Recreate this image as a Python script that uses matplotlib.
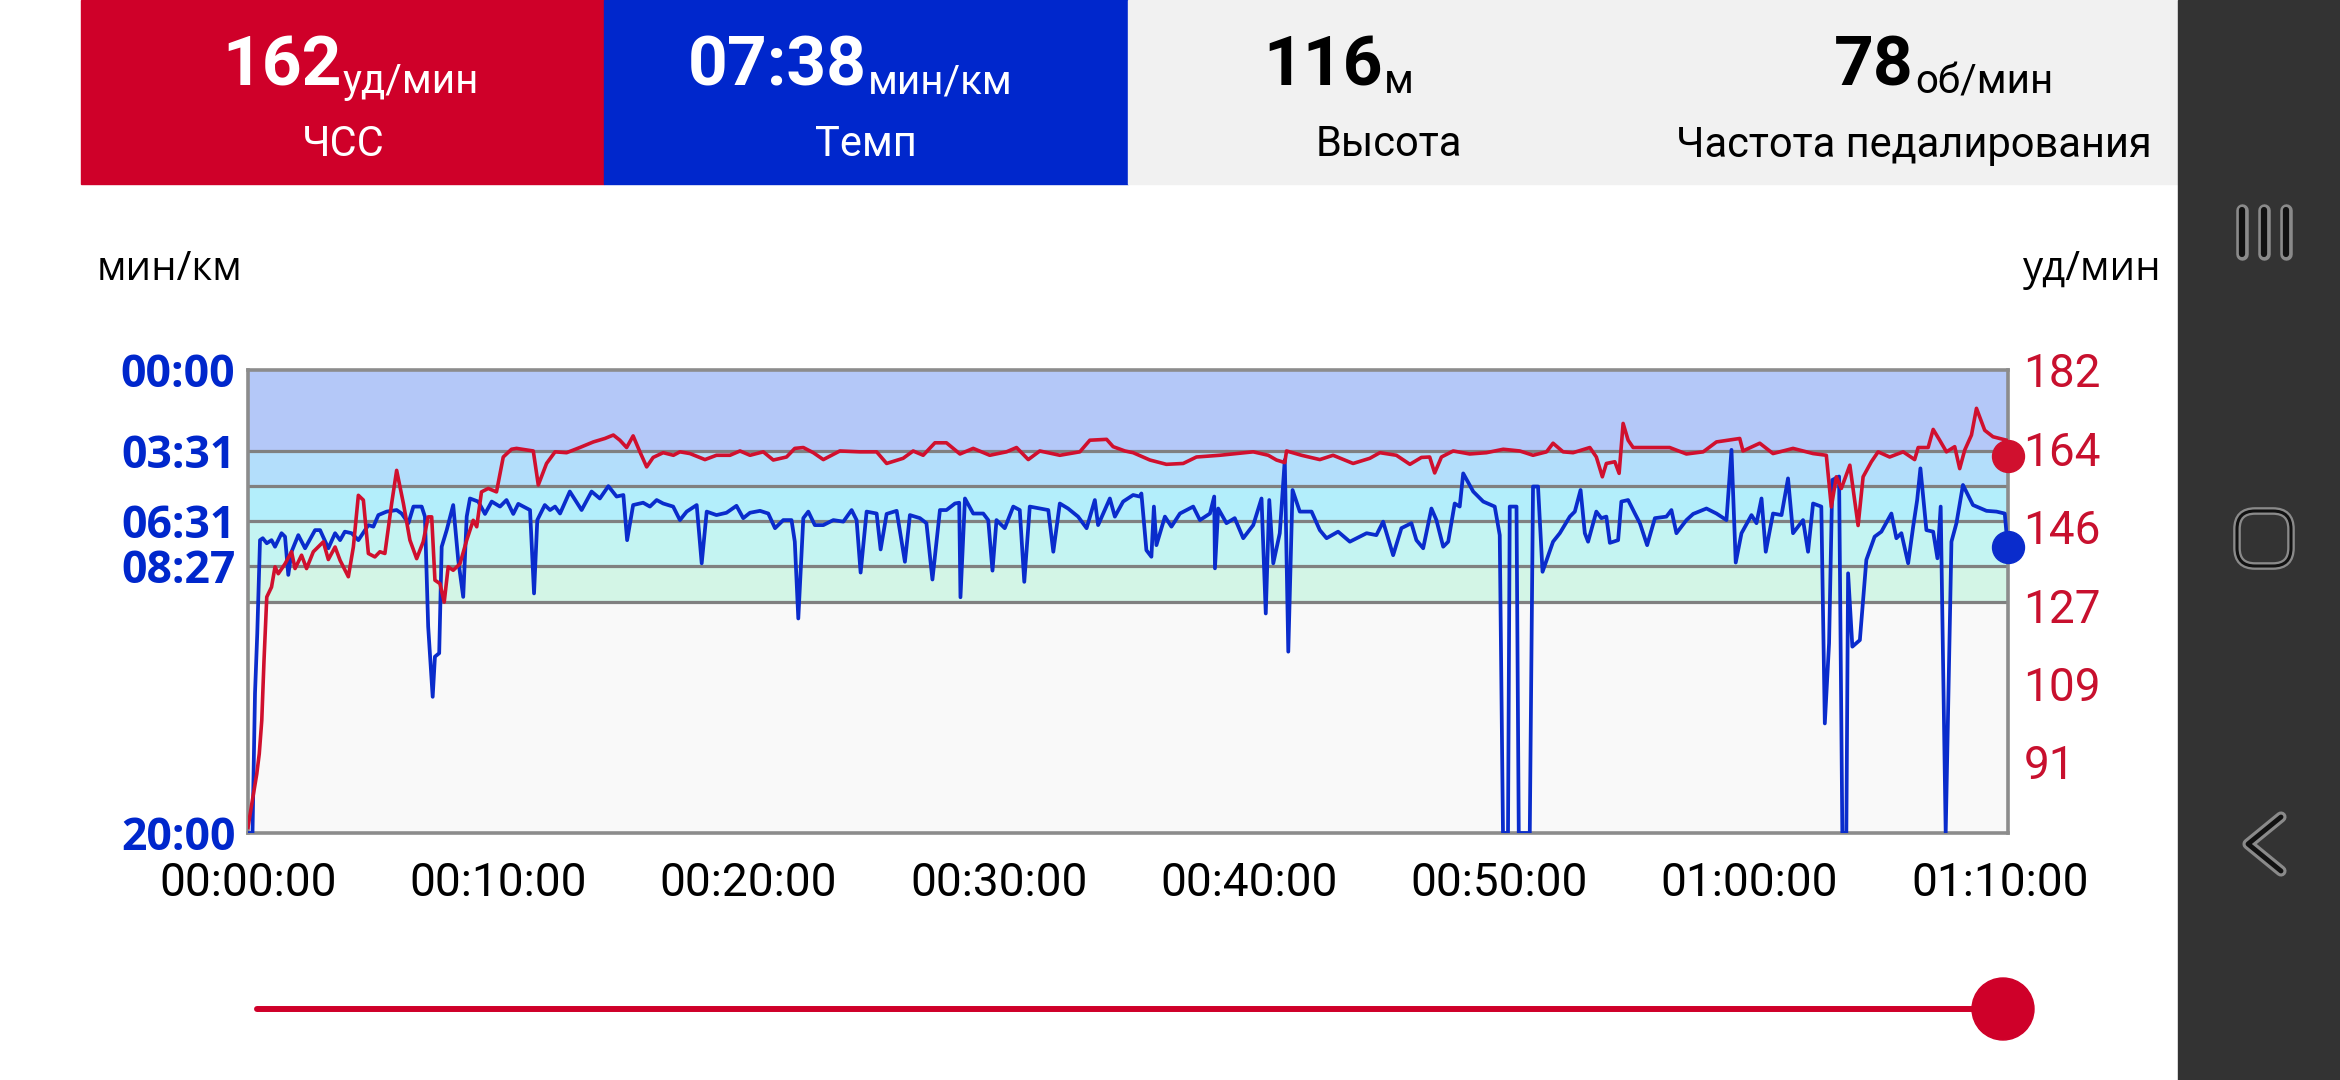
import matplotlib
matplotlib.use("Agg")
import matplotlib.pyplot as plt
from matplotlib.patches import Rectangle, Circle, FancyBboxPatch

# ---------------- данные ----------------
# время, мин
HR_T = [0, 0.15, 0.35, 0.45, 0.55, 0.64, 0.75, 0.94, 1.08, 1.21, 1.48, 1.74, 1.88, 2.14, 2.34,
        2.61, 3.01, 3.21, 3.48, 3.68, 4.01, 4.21, 4.41, 4.61, 4.81, 5.07, 5.27, 5.47, 5.74, 5.94,
        6.21, 6.47, 6.74, 7.00, 7.20, 7.34, 7.47, 7.67, 7.84, 8.00, 8.20, 8.47, 8.74, 9.00, 9.14,
        9.33, 9.60, 9.93, 10.20, 10.53, 10.73, 11.40, 11.60, 11.93, 12.27, 12.73, 13.26, 13.80,
        14.26, 14.60, 14.86, 15.13, 15.39, 15.66, 15.93, 16.19, 16.59, 17.00, 17.26, 17.66, 18.26,
        18.72, 19.26, 19.66, 20.06, 20.59, 20.99, 21.52, 21.85, 22.19, 22.59, 22.99, 23.65, 24.45,
        25.12, 25.52, 26.18, 26.58, 26.98, 27.45, 27.91, 28.45, 28.98, 29.64, 30.31, 30.71, 31.18,
        31.64, 32.44, 33.24, 33.64, 34.31, 34.57, 35.04, 35.37, 36.04, 36.70, 37.37, 37.90, 38.83,
        39.50, 40.17, 40.77, 41.10, 41.43, 41.50, 42.10, 42.83, 43.36, 44.16, 44.83, 45.23, 45.89,
        46.43, 46.89, 47.22, 47.42, 47.69, 48.16, 48.82, 49.49, 50.16, 50.82, 51.35, 51.89, 52.15,
        52.55, 52.95, 53.62, 53.88, 54.12, 54.28, 54.62, 54.79, 54.95, 55.15, 55.35, 56.15, 56.81,
        57.48, 58.15, 58.68, 59.61, 59.74, 60.41, 60.94, 61.74, 62.54, 63.07, 63.27, 63.47, 63.67,
        64.01, 64.34, 64.54, 64.87, 65.14, 65.60, 66.14, 66.60, 66.74, 67.14, 67.34, 67.60, 67.87,
        68.20, 68.40, 68.60, 68.87, 69.07, 69.40, 69.73, 70.27]
# ЧСС, уд/мин
HR_V = [75.8, 81.2, 88.2, 92.9, 100.6, 114.6, 129.3, 131.6, 136.3, 134.7, 137.0, 139.8, 135.9,
        139.0, 135.9, 139.8, 142.1, 138.0, 140.9, 137.8, 134.0, 140.9, 152.9, 151.8, 139.4, 138.6,
        139.8, 139.4, 151.0, 158.7, 151.0, 142.5, 138.2, 142.1, 147.9, 147.9, 133.2, 132.4, 128.1,
        136.3, 135.5, 137.0, 142.5, 147.1, 145.6, 153.7, 154.5, 153.7, 161.8, 163.6, 163.8, 163.2,
        155.3, 160.3, 163.0, 162.8, 164.0, 165.3, 166.1, 166.9, 165.7, 164.0, 166.7, 163.0, 159.5,
        161.7, 162.8, 162.2, 163.0, 162.6, 161.2, 162.2, 162.2, 163.2, 162.2, 163.0, 161.1, 161.8,
        163.8, 164.0, 162.8, 161.2, 163.2, 163.0, 163.0, 160.3, 161.5, 163.2, 162.2, 165.1, 165.1,
        162.5, 163.8, 162.2, 163.0, 164.0, 161.2, 163.2, 162.2, 163.0, 165.7, 165.9, 164.2, 163.2,
        162.8, 161.1, 160.1, 160.3, 161.8, 162.2, 162.6, 163.0, 162.2, 161.1, 160.5, 163.2, 162.2,
        161.2, 162.2, 160.3, 161.5, 162.8, 162.2, 160.1, 161.7, 161.8, 158.1, 161.8, 163.2, 162.5,
        162.8, 163.6, 163.2, 162.2, 163.0, 165.0, 163.0, 162.8, 164.0, 161.8, 157.2, 160.3, 160.7,
        158.0, 169.6, 165.7, 164.0, 164.0, 164.0, 162.5, 163.0, 165.3, 166.1, 163.2, 165.0, 162.6,
        163.8, 162.6, 162.2, 150.2, 157.2, 154.5, 159.9, 145.9, 157.2, 160.7, 163.0, 161.8, 163.0,
        161.2, 164.0, 164.0, 168.2, 165.7, 163.0, 164.2, 159.1, 163.4, 166.9, 173.1, 168.0, 166.5,
        165.7]

# время, мин
PACE_T = [0, 0.18, 0.28, 0.37, 0.48, 0.59, 0.75, 0.94, 1.08, 1.34, 1.48, 1.61, 1.74, 2.01, 2.28,
          2.68, 2.88, 3.21, 3.48, 3.68, 3.87, 4.14, 4.41, 4.81, 5.01, 5.21, 5.54, 5.94, 6.14, 6.41,
          6.61, 6.94, 7.07, 7.20, 7.38, 7.47, 7.64, 7.74, 7.94, 8.20, 8.40, 8.60, 8.74, 8.87, 9.20,
          9.47, 9.74, 10.07, 10.33, 10.60, 10.80, 11.27, 11.43, 11.56, 11.86, 12.07, 12.27, 12.47,
          12.86, 13.33, 13.73, 14.06, 14.40, 14.73, 15.00, 15.15, 15.39, 15.79, 16.06, 16.33, 16.59,
          16.99, 17.26, 17.53, 17.93, 18.13, 18.33, 18.72, 19.12, 19.52, 19.79, 20.06, 20.46, 20.79,
          21.06, 21.39, 21.72, 21.85, 21.99, 22.19, 22.39, 22.65, 22.99, 23.39, 23.79, 24.12, 24.32,
          24.48, 24.72, 25.12, 25.28, 25.52, 25.92, 26.25, 26.45, 26.85, 27.11, 27.35, 27.65, 27.91,
          28.25, 28.42, 28.47, 28.65, 28.98, 29.38, 29.58, 29.75, 29.91, 30.24, 30.58, 30.84, 31.02,
          31.24, 31.64, 31.98, 32.18, 32.44, 32.77, 33.17, 33.51, 33.84, 33.97, 34.44, 34.64, 34.97,
          35.37, 35.64, 35.70, 35.90, 36.10, 36.20, 36.30, 36.64, 36.90, 37.24, 37.77, 38.04, 38.44,
          38.61, 38.64, 38.77, 39.10, 39.43, 39.77, 40.17, 40.50, 40.67, 40.81, 40.97, 41.23, 41.43,
          41.57, 41.74, 42.03, 42.50, 42.83, 43.10, 43.56, 44.03, 44.70, 45.09, 45.36, 45.76, 46.09,
          46.49, 46.69, 46.96, 47.29, 47.49, 47.76, 47.96, 48.22, 48.42, 48.56, 48.96, 49.36, 49.82,
          50.02, 50.15, 50.35, 50.42, 50.69, 50.78, 51.22, 51.35, 51.55, 51.73, 52.15, 52.42, 52.82,
          53.02, 53.25, 53.42, 53.55, 53.88, 54.08, 54.28, 54.42, 54.75, 54.88, 55.15, 55.42, 55.62,
          55.91, 56.22, 56.68, 56.88, 57.08, 57.48, 57.75, 58.28, 58.68, 59.08, 59.28, 59.45, 59.68,
          60.08, 60.28, 60.48, 60.65, 60.94, 61.28, 61.54, 61.74, 62.14, 62.34, 62.54, 62.87, 63.01,
          63.18, 63.31, 63.58, 63.71, 63.87, 63.94, 64.11, 64.41, 64.67, 65.00, 65.27, 65.67, 65.87,
          66.07, 66.34, 66.54, 66.70, 66.83, 67.07, 67.34, 67.51, 67.64, 67.84, 68.07, 68.27, 68.53,
          68.93, 69.47, 69.87, 70.20, 70.27]
# темп, с/км
PACE_V = [1200, 1200, 838, 683, 441, 436, 449, 441, 458, 423, 432, 531, 471, 428, 462, 415, 415,
          462, 423, 441, 419, 423, 441, 402, 406, 376, 367, 363, 372, 397, 354, 354, 380, 665, 847,
          743, 734, 458, 415, 350, 492, 588, 380, 333, 341, 373, 341, 354, 337, 373, 347, 363, 579,
          389, 350, 363, 354, 372, 315, 363, 315, 333, 301, 328, 324, 441, 350, 344, 354, 337, 346,
          354, 389, 367, 350, 501, 367, 376, 370, 352, 384, 370, 365, 372, 410, 389, 389, 445, 644,
          384, 367, 402, 402, 389, 393, 363, 389, 525, 367, 372, 465, 373, 365, 497, 376, 384, 397,
          543, 363, 363, 346, 344, 589, 333, 372, 372, 389, 520, 389, 410, 354, 363, 549, 354, 359,
          363, 471, 346, 359, 380, 410, 337, 402, 333, 380, 341, 324, 328, 320, 467, 484, 354, 454,
          380, 406, 372, 354, 389, 372, 328, 514, 359, 397, 384, 436, 402, 333, 631, 337, 501, 423,
          233, 730, 311, 367, 367, 415, 436, 419, 445, 423, 428, 393, 480, 410, 397, 441, 462, 359,
          389, 458, 445, 346, 354, 268, 315, 341, 354, 428, 1200, 1200, 354, 354, 1200, 1200, 302,
          302, 523, 445, 423, 380, 367, 311, 423, 445, 367, 384, 380, 448, 441, 341, 337, 372, 397,
          454, 384, 380, 363, 423, 389, 373, 359, 372, 389, 207, 499, 423, 376, 397, 333, 471, 372,
          376, 281, 423, 389, 471, 346, 354, 916, 708, 285, 276, 1200, 1200, 527, 717, 700, 492, 432,
          419, 372, 436, 423, 501, 406, 337, 255, 415, 419, 488, 354, 1200, 445, 397, 298, 350, 365,
          367, 372, 423]

CUR_HR = 162
CUR_PACE = 458          # 07:38
CUR_ALT = 116
CUR_CAD = 78
T_END = 70.33

ZONE_EDGES = [0, 211, 300, 391, 507, 600, 1200]     # с/км
ZONE_COLORS = ["#b4c8f8", "#b3defb", "#b3eefb", "#c4f4f2", "#d3f5e6", "#f9f9f9"]

PACE_TICKS = [0, 211, 391, 507, 1200]
PACE_LABELS = ["00:00", "03:31", "06:31", "08:27", "20:00"]
HR_TICKS = [182, 163.8, 145.6, 127.4, 109.2, 91]
HR_LABELS = ["182", "164", "146", "127", "109", "91"]
TIME_TICKS = [0, 10, 20, 30, 40, 50, 60, 70]
TIME_LABELS = ["00:00:00", "00:10:00", "00:20:00", "00:30:00", "00:40:00",
               "00:50:00", "01:00:00", "01:10:00"]

RED = "#cf0029"
BLUE = "#0027cc"
LINE_RED = "#d0102e"
LINE_BLUE = "#0a2ccc"

# ---------------- фон / шапка ----------------
fig = plt.figure(figsize=(23.4, 10.8), dpi=100)
bg = fig.add_axes([0, 0, 1, 1])
bg.set_xlim(0, 2340)
bg.set_ylim(1080, 0)
bg.axis("off")

bg.add_patch(Rectangle((81, 0), 523, 184, color=RED))
bg.add_patch(Rectangle((604, 0), 524, 184, color=BLUE))
bg.add_patch(Rectangle((1128, 0), 1050, 184, color="#f1f1f1"))
bg.add_patch(Rectangle((2178, 0), 162, 1080, color="#333333"))

big = dict(family="Roboto", fontweight="bold", fontsize=50, va="baseline", ha="right")
unit = dict(family="Roboto", fontsize=29, va="baseline", ha="left")
lab = dict(family="Roboto", fontsize=30, va="center", ha="center")

bg.text(342, 85, str(CUR_HR), color="white", **big)
bg.text(343, 93, "уд/мин", color="white", **unit)
bg.text(343, 145, "ЧСС", color="white", **lab)

bg.text(867, 85, "%02d:%02d" % divmod(CUR_PACE, 60), color="white", **big)
bg.text(868, 93, "мин/км", color="white", **unit)
bg.text(866, 145, "Темп", color="white", **lab)

bg.text(1383, 85, str(CUR_ALT), color="black", **big)
bg.text(1384, 93, "м", color="black", **unit)
bg.text(1389, 145, "Высота", color="black", **lab)

bg.text(1914, 85, str(CUR_CAD), color="black", **big)
bg.text(1915, 93, "об/мин", color="black", **unit)
bg.text(1914, 145, "Частота педалирования", color="black", **lab)

bg.text(97, 280, "мин/км", family="Open Sans", fontsize=29, color="black", va="baseline")
bg.text(2023, 280, "уд/мин", family="Open Sans", fontsize=29, color="black", va="baseline")

# навигационные кнопки
for x in (2242, 2264, 2286):
    bg.plot([x, x], [210, 254], color="#8a8a8a", lw=9, solid_capstyle="round")
    bg.plot([x, x], [210, 254], color="#111111", lw=4.5, solid_capstyle="round")
for ec, lw in (("#8a8a8a", 5.5), ("#111111", 2.2)):
    bg.add_patch(FancyBboxPatch((2237, 511), 54, 55, boxstyle="round,pad=0,rounding_size=18",
                                fc="none", ec=ec, lw=lw))
for c, lw in (("#8a8a8a", 8), ("#111111", 3.5)):
    bg.plot([2281, 2248, 2281], [817, 844, 871], color=c, lw=lw,
            solid_capstyle="round", solid_joinstyle="round")

# ползунок
bg.plot([257, 2000], [1009, 1009], color=RED, lw=4.3, solid_capstyle="round")
bg.add_patch(Circle((2003, 1009), 31, color=RED))

# ---------------- график ----------------
ax = fig.add_axes([248 / 2340, 1 - 833 / 1080, 1760 / 2340, 463 / 1080])
ax.set_xlim(0, T_END)
ax.set_ylim(1200, 0)
for lo, hi, c in zip(ZONE_EDGES[:-1], ZONE_EDGES[1:], ZONE_COLORS):
    ax.axhspan(lo, hi, color=c, lw=0, zorder=0)
for y in ZONE_EDGES[1:-1]:
    ax.axhline(y, color="#808080", lw=2.3, zorder=1)

ax.plot(PACE_T, PACE_V, color=LINE_BLUE, lw=2.7, zorder=3)

for s in ax.spines.values():
    s.set_color("#8c8c8c")
    s.set_linewidth(2.6)

ax.set_yticks(PACE_TICKS)
ax.set_yticklabels(PACE_LABELS, family="Open Sans", fontweight="bold", fontsize=32, color=BLUE)
ax.set_xticks(TIME_TICKS)
ax.set_xticklabels(TIME_LABELS, family="Roboto", fontsize=33, color="black")
ax.tick_params(axis="y", length=0, pad=9)
ax.tick_params(axis="x", length=0, pad=20)

ax2 = ax.twinx()
ax2.set_ylim(74.5, 182)
ax2.plot(HR_T, HR_V, color=LINE_RED, lw=2.6, zorder=3)
ax2.set_yticks(HR_TICKS)
ax2.set_yticklabels(HR_LABELS, family="Roboto", fontsize=33, color="#c8102e")
ax2.tick_params(axis="y", length=0, pad=11)
for s in ax2.spines.values():
    s.set_visible(False)

ax2.plot([T_END], [CUR_HR], "o", color=LINE_RED, ms=23, clip_on=False, zorder=5)
ax.plot([T_END], [CUR_PACE], "o", color=LINE_BLUE, ms=23, clip_on=False, zorder=5)

fig.savefig("out.png", dpi=100)
